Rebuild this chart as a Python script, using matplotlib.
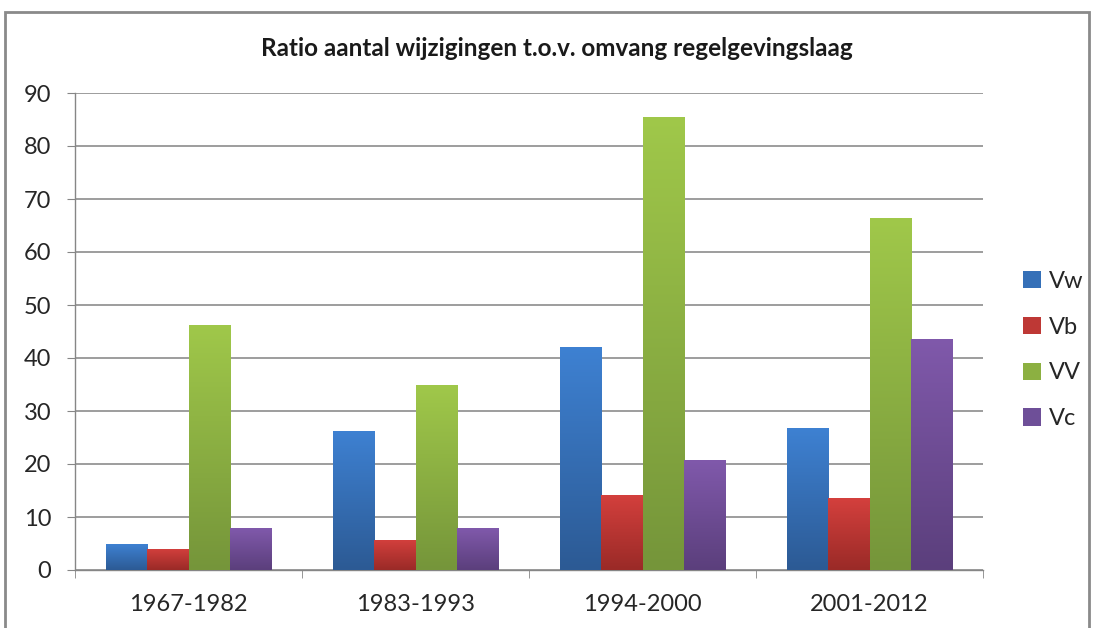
import matplotlib
matplotlib.use("Agg")
import matplotlib.pyplot as plt
import numpy as np
from matplotlib.colors import LinearSegmentedColormap
from matplotlib.patches import Rectangle, Patch

categories = ["1967-1982", "1983-1993", "1994-2000", "2001-2012"]
series_names = ["Vw", "Vb", "VV", "Vc"]
Vw = [4.9, 26.3, 42.0, 26.7]
Vb = [4.0, 5.7, 14.2, 13.5]
VV = [46.3, 34.9, 85.5, 66.4]
Vc = [7.9, 7.9, 20.7, 43.6]
values = [Vw, Vb, VV, Vc]
yticks = [0, 10, 20, 30, 40, 50, 60, 70, 80, 90]

top_colors = ["#3e81d2", "#d4403d", "#a0c84a", "#8059ab"]
bot_colors = ["#2c5a94", "#9a2a27", "#75953a", "#5b3f7c"]
mid_colors = ["#3570b8", "#be3835", "#8cb041", "#6e4f98"]

plt.rcParams['font.family'] = ['Lato', 'DejaVu Sans']

fig = plt.figure(figsize=(10.94, 6.28), dpi=100)
fig.patch.set_facecolor("white")
ax = fig.add_axes([75/1094, 1-570/628, (983-75)/1094, (570-93)/628])

n = len(series_names)
bw = 1.0 / (n + 1.5)
x = np.arange(len(categories))
grad = np.linspace(1, 0, 256).reshape(-1, 1)

for i, (name, vals) in enumerate(zip(series_names, values)):
    offs = (i - (n - 1) / 2) * bw
    bars = ax.bar(x + offs, vals, width=bw, color=mid_colors[i], label=name,
                  edgecolor="none", zorder=2)
    cmap = LinearSegmentedColormap.from_list(name, [bot_colors[i], top_colors[i]])
    for b in bars:
        bx = b.get_x()
        w, h = b.get_width(), b.get_height()
        im = ax.imshow(grad, extent=[bx, bx + w, 0, h], cmap=cmap,
                       aspect="auto", origin="upper", zorder=3, vmin=0, vmax=1)
        im.set_clip_path(b)

ax.set_xlim(-0.5, len(categories) - 0.5)
ax.set_ylim(0, 90)
ax.set_yticks(yticks)
ax.set_yticklabels([str(t) for t in yticks], fontsize=17, color="#262626")
ax.set_xticks(x)
ax.set_xticklabels(categories, fontsize=17, color="#262626")
ax.tick_params(axis="x", length=0, pad=17)
ax.set_xticks(np.arange(-0.5, len(categories), 1), minor=True)
ax.tick_params(axis="x", which="minor", length=6, color="#868686", direction="out")
ax.tick_params(axis="y", length=6, color="#868686", direction="out", pad=11)
ax.grid(axis="y", color="#8c8c8c", linewidth=1.2, zorder=0)
ax.set_axisbelow(True)
for s in ["top", "right"]:
    ax.spines[s].set_visible(False)
for s in ["left", "bottom"]:
    ax.spines[s].set_color("#868686")
    ax.spines[s].set_linewidth(1.0)

leg_handles = [Patch(facecolor=mid_colors[i], edgecolor="none") for i in range(n)]
leg = fig.legend(leg_handles, series_names, loc="center left",
                 bbox_to_anchor=(1023/1094, 1-350/628), frameon=False,
                 fontsize=17, handlelength=0.75, handleheight=0.75,
                 labelspacing=1.05, handletextpad=0.35, borderpad=0, borderaxespad=0)
for t in leg.get_texts():
    t.set_color("#262626")

fig.text(557/1094, 1-48/628, "Ratio aantal wijzigingen t.o.v. omvang regelgevingslaag",
         ha="center", va="center", fontsize=17.5, fontweight="bold", color="#1a1a1a")

# outer chart frame
fig.add_artist(Rectangle((5/1094, -0.05), 1084/1094, 1-12/628 + 0.05,
                         transform=fig.transFigure, fill=False,
                         edgecolor="#8a8a8a", linewidth=2))

fig.savefig("out.png", dpi=100, facecolor="white")
